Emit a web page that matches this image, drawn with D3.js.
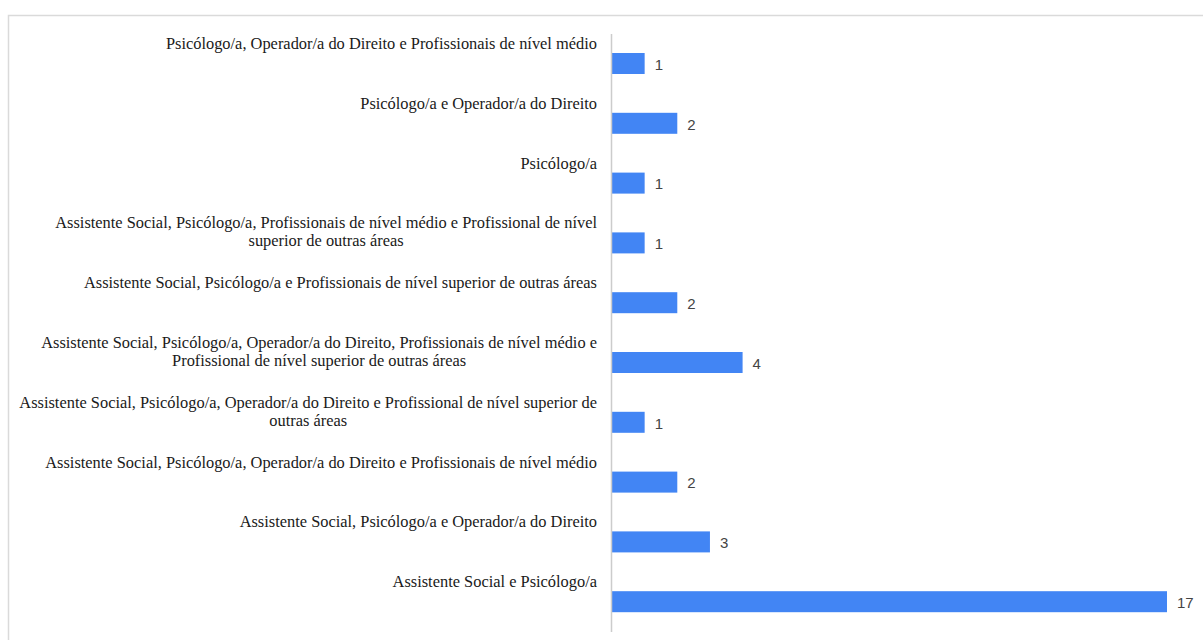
<!DOCTYPE html>
<html>
<head>
<meta charset="utf-8">
<script src="https://cdn.jsdelivr.net/npm/d3@7"></script>
<style>
  html, body { margin: 0; padding: 0; background: #fff; }
  svg { display: block; }
</style>
</head>
<body>
<svg id="chart" width="1203" height="640"></svg>
<script>
const categories = [
  ["Psicólogo/a, Operador/a do Direito e Profissionais de nível médio"],
  ["Psicólogo/a e Operador/a do Direito"],
  ["Psicólogo/a"],
  ["Assistente Social, Psicólogo/a, Profissionais de nível médio e Profissional de nível", "superior de outras áreas"],
  ["Assistente Social, Psicólogo/a e Profissionais de nível superior de outras áreas"],
  ["Assistente Social, Psicólogo/a, Operador/a do Direito, Profissionais de nível médio e", "Profissional de nível superior de outras áreas"],
  ["Assistente Social, Psicólogo/a, Operador/a do Direito e Profissional de nível superior de", "outras áreas"],
  ["Assistente Social, Psicólogo/a, Operador/a do Direito e Profissionais de nível médio"],
  ["Assistente Social, Psicólogo/a e Operador/a do Direito"],
  ["Assistente Social e Psicólogo/a"]
];
const values = [1, 2, 1, 1, 2, 4, 1, 2, 3, 17];

(function () {
const svg = d3.select("#chart");

// outer frame
svg.append("rect")
  .attr("x", 8.5).attr("y", 15.5)
  .attr("width", 1200).attr("height", 640)
  .attr("fill", "none").attr("stroke", "#dadada").attr("stroke-width", 1.5);

const x0 = 611, plotTop = 34, plotBottom = 632;
const x = d3.scaleLinear().domain([0, 17]).range([x0 + 1, 1167]);
const band = d3.scaleBand().domain(d3.range(categories.length)).range([plotTop, plotBottom]);

// bars
svg.append("g").selectAll("rect")
  .data(values)
  .join("rect")
  .attr("x", x(0))
  .attr("y", (d, i) => band(i) + 19)
  .attr("width", d => x(d) - x(0))
  .attr("height", 21)
  .attr("fill", "#4285f4");

// value labels
svg.append("g").selectAll("text")
  .data(values)
  .join("text")
  .attr("x", d => x(d) + 10)
  .attr("y", (d, i) => band(i) + 30.5)
  .attr("dy", "0.35em")
  .attr("font-family", "Liberation Sans, Arial, sans-serif")
  .attr("font-size", 15)
  .attr("fill", "#444")
  .text(d => d);

// axis line
svg.append("line")
  .attr("x1", x0 + 0.5).attr("x2", x0 + 0.5)
  .attr("y1", plotTop).attr("y2", plotBottom)
  .attr("stroke", "#cccccc").attr("stroke-width", 1.5);

// category labels
const labelRight = 597;
const lg = svg.append("g")
  .attr("font-family", "Liberation Serif, 'Times New Roman', serif")
  .attr("font-size", 16.4)
  .attr("fill", "#1a1a1a");

categories.forEach((lines, i) => {
  const g = lg.append("g");
  const texts = lines.map((ln, j) =>
    g.append("text")
      .attr("y", band(i) + 15 + j * 18)
      .text(ln));
  const widths = texts.map(t => t.node().getComputedTextLength());
  const maxW = Math.max(...widths);
  const cx = labelRight - maxW / 2;
  texts.forEach(t => t.attr("x", cx).attr("text-anchor", "middle"));
});
})();
</script>
</body>
</html>
